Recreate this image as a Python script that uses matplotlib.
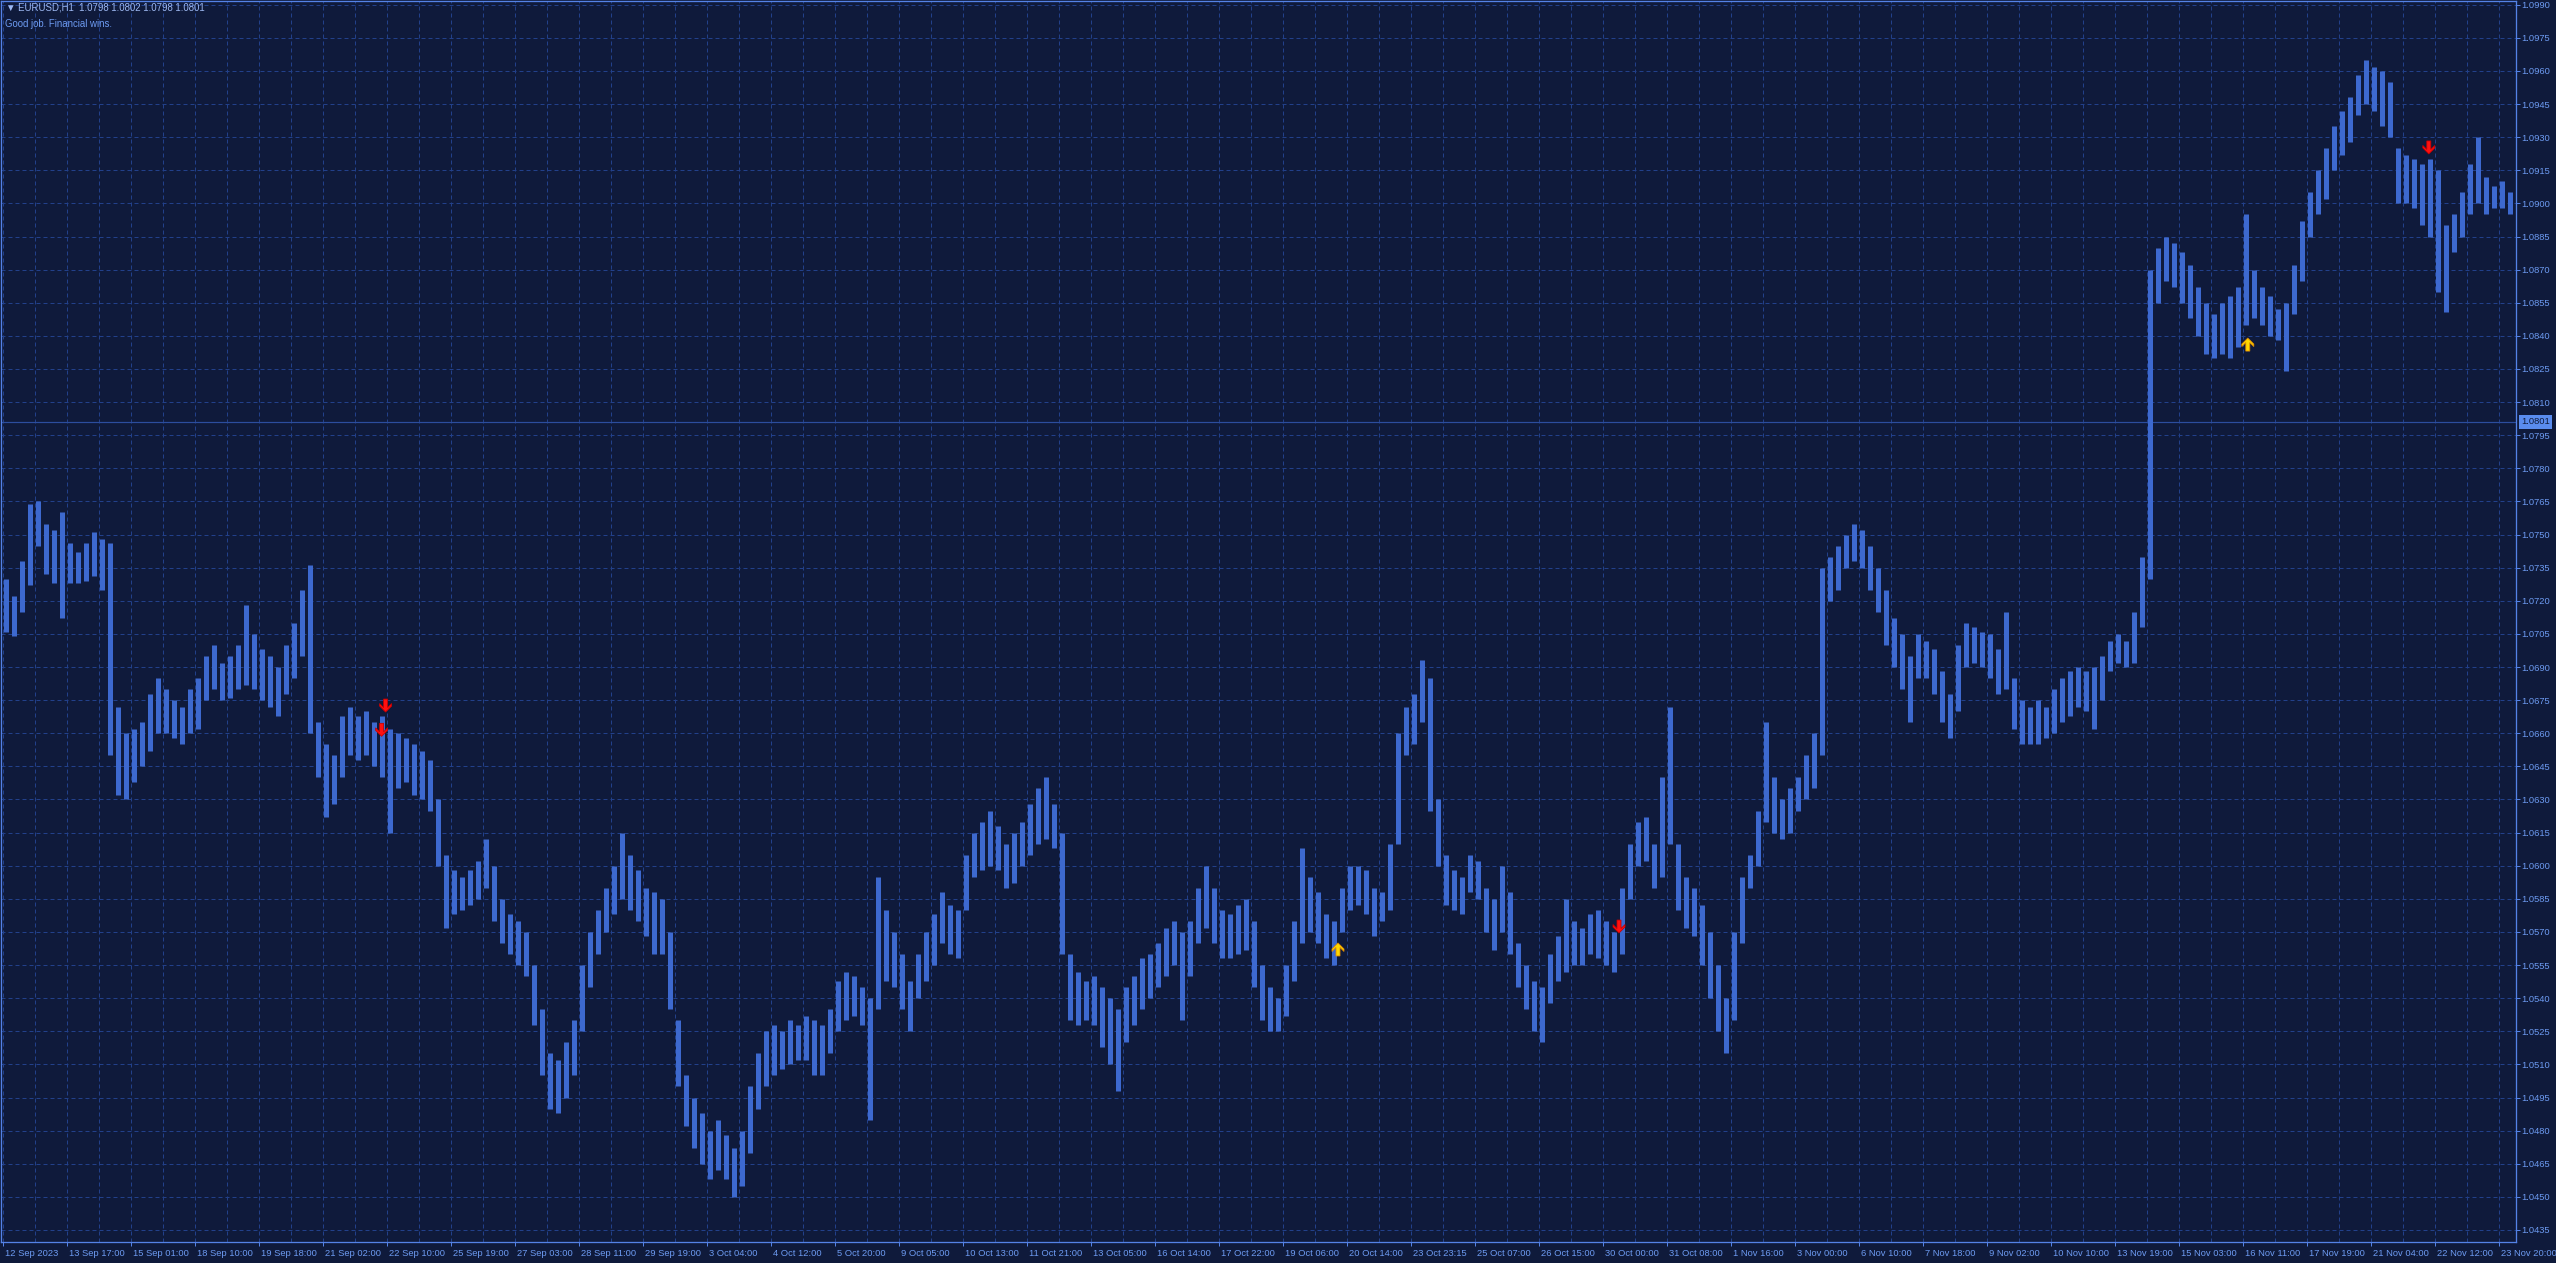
import matplotlib
matplotlib.use('Agg')
import matplotlib.pyplot as plt
import matplotlib.transforms as mtransforms
from matplotlib.patches import Polygon
import numpy as np

FONT = ['Liberation Sans', 'DejaVu Sans']
plt.rcParams['font.family'] = FONT

# ---------------- data ----------------
symbol = 'EURUSD,H1'
last_ohlc = ['1.0798', '1.0802', '1.0798', '1.0801']
subtitle = 'Good job. Financial wins.'
current_price = 1.0801

bars_per_group = 4   # each value pair below covers 4 hourly bars

highs = [
    1.0730, 1.0722, 1.0738, 1.0764, 1.0765, 1.0755, 1.0752, 1.0760, 1.0746, 1.0742,
    1.0746, 1.0751, 1.0748, 1.0746, 1.0672, 1.0660, 1.0662, 1.0665, 1.0678, 1.0685,
    1.0680, 1.0675, 1.0672, 1.0680, 1.0685, 1.0695, 1.0700, 1.0692, 1.0695, 1.0700,
    1.0718, 1.0705, 1.0698, 1.0695, 1.0690, 1.0700, 1.0710, 1.0725, 1.0736, 1.0665,
    1.0655, 1.0650, 1.0668, 1.0672, 1.0668, 1.0670, 1.0665, 1.0668, 1.0662, 1.0660,
    1.0658, 1.0655, 1.0652, 1.0648, 1.0630, 1.0605, 1.0598, 1.0595, 1.0598, 1.0602,
    1.0612, 1.0600, 1.0585, 1.0578, 1.0575, 1.0570, 1.0555, 1.0535, 1.0515, 1.0512,
    1.0520, 1.0530, 1.0555, 1.0570, 1.0580, 1.0590, 1.0600, 1.0615, 1.0605, 1.0598,
    1.0590, 1.0588, 1.0585, 1.0570, 1.0530, 1.0505, 1.0495, 1.0488, 1.0480, 1.0485,
    1.0478, 1.0472, 1.0480, 1.0500, 1.0515, 1.0525, 1.0528, 1.0525, 1.0530, 1.0528,
    1.0532, 1.0530, 1.0528, 1.0535, 1.0548, 1.0552, 1.0550, 1.0545, 1.0540, 1.0595,
    1.0580, 1.0570, 1.0560, 1.0548, 1.0560, 1.0570, 1.0578, 1.0588, 1.0582, 1.0580,
    1.0605, 1.0615, 1.0620, 1.0625, 1.0618, 1.0610, 1.0615, 1.0620, 1.0628, 1.0635,
    1.0640, 1.0628, 1.0615, 1.0560, 1.0552, 1.0548, 1.0550, 1.0545, 1.0540, 1.0535,
    1.0545, 1.0550, 1.0558, 1.0560, 1.0565, 1.0572, 1.0575, 1.0570, 1.0575, 1.0590,
    1.0600, 1.0590, 1.0580, 1.0578, 1.0582, 1.0585, 1.0575, 1.0555, 1.0545, 1.0540,
    1.0555, 1.0575, 1.0608, 1.0595, 1.0588, 1.0578, 1.0575, 1.0590, 1.0600, 1.0600,
    1.0598, 1.0590, 1.0588, 1.0610, 1.0660, 1.0672, 1.0678, 1.0693, 1.0685, 1.0630,
    1.0605, 1.0598, 1.0595, 1.0605, 1.0602, 1.0590, 1.0585, 1.0600, 1.0588, 1.0565,
    1.0555, 1.0548, 1.0545, 1.0560, 1.0568, 1.0585, 1.0575, 1.0572, 1.0578, 1.0580,
    1.0575, 1.0570, 1.0590, 1.0610, 1.0620, 1.0622, 1.0610, 1.0640, 1.0672, 1.0610,
    1.0595, 1.0590, 1.0582, 1.0570, 1.0555, 1.0540, 1.0570, 1.0595, 1.0605, 1.0625,
    1.0665, 1.0640, 1.0630, 1.0635, 1.0640, 1.0650, 1.0660, 1.0735, 1.0740, 1.0745,
    1.0750, 1.0755, 1.0752, 1.0745, 1.0735, 1.0725, 1.0712, 1.0705, 1.0695, 1.0705,
    1.0702, 1.0698, 1.0688, 1.0678, 1.0700, 1.0710, 1.0708, 1.0706, 1.0705, 1.0698,
    1.0715, 1.0685, 1.0675, 1.0672, 1.0675, 1.0672, 1.0680, 1.0685, 1.0688, 1.0690,
    1.0688, 1.0690, 1.0695, 1.0702, 1.0705, 1.0702, 1.0715, 1.0740, 1.0870, 1.0880,
    1.0885, 1.0882, 1.0878, 1.0872, 1.0862, 1.0855, 1.0850, 1.0855, 1.0858, 1.0862,
    1.0895, 1.0870, 1.0862, 1.0858, 1.0852, 1.0855, 1.0872, 1.0892, 1.0905, 1.0915,
    1.0925, 1.0935, 1.0942, 1.0948, 1.0958, 1.0965, 1.0962, 1.0960, 1.0955, 1.0925,
    1.0922, 1.0920, 1.0918, 1.0920, 1.0915, 1.0890, 1.0895, 1.0905, 1.0918, 1.0930,
    1.0912, 1.0908, 1.0910, 1.0905,
]

lows = [
    1.0706, 1.0704, 1.0715, 1.0727, 1.0745, 1.0732, 1.0728, 1.0712, 1.0728, 1.0728,
    1.0729, 1.0731, 1.0725, 1.0650, 1.0632, 1.0630, 1.0638, 1.0645, 1.0652, 1.0660,
    1.0660, 1.0658, 1.0655, 1.0660, 1.0662, 1.0675, 1.0680, 1.0675, 1.0676, 1.0680,
    1.0682, 1.0680, 1.0675, 1.0672, 1.0668, 1.0678, 1.0685, 1.0695, 1.0660, 1.0640,
    1.0622, 1.0628, 1.0640, 1.0650, 1.0648, 1.0650, 1.0645, 1.0640, 1.0615, 1.0635,
    1.0638, 1.0632, 1.0630, 1.0625, 1.0600, 1.0572, 1.0578, 1.0580, 1.0582, 1.0585,
    1.0590, 1.0575, 1.0565, 1.0560, 1.0555, 1.0550, 1.0528, 1.0505, 1.0490, 1.0488,
    1.0495, 1.0505, 1.0525, 1.0545, 1.0560, 1.0570, 1.0578, 1.0585, 1.0580, 1.0575,
    1.0568, 1.0560, 1.0560, 1.0535, 1.0500, 1.0482, 1.0472, 1.0465, 1.0458, 1.0462,
    1.0458, 1.0450, 1.0455, 1.0470, 1.0490, 1.0500, 1.0505, 1.0508, 1.0510, 1.0512,
    1.0512, 1.0505, 1.0505, 1.0515, 1.0525, 1.0530, 1.0532, 1.0528, 1.0485, 1.0535,
    1.0548, 1.0545, 1.0535, 1.0525, 1.0540, 1.0548, 1.0555, 1.0565, 1.0560, 1.0558,
    1.0580, 1.0595, 1.0598, 1.0600, 1.0598, 1.0590, 1.0592, 1.0600, 1.0605, 1.0610,
    1.0612, 1.0608, 1.0560, 1.0530, 1.0528, 1.0530, 1.0528, 1.0518, 1.0510, 1.0498,
    1.0520, 1.0528, 1.0535, 1.0540, 1.0545, 1.0550, 1.0555, 1.0530, 1.0550, 1.0565,
    1.0572, 1.0565, 1.0558, 1.0558, 1.0560, 1.0562, 1.0545, 1.0530, 1.0525, 1.0525,
    1.0532, 1.0548, 1.0565, 1.0570, 1.0565, 1.0558, 1.0555, 1.0570, 1.0580, 1.0582,
    1.0578, 1.0568, 1.0575, 1.0580, 1.0610, 1.0650, 1.0655, 1.0665, 1.0625, 1.0600,
    1.0582, 1.0580, 1.0578, 1.0588, 1.0585, 1.0570, 1.0562, 1.0570, 1.0560, 1.0545,
    1.0535, 1.0525, 1.0520, 1.0538, 1.0548, 1.0552, 1.0555, 1.0555, 1.0560, 1.0558,
    1.0555, 1.0552, 1.0560, 1.0585, 1.0600, 1.0602, 1.0590, 1.0595, 1.0610, 1.0580,
    1.0572, 1.0568, 1.0555, 1.0540, 1.0525, 1.0515, 1.0530, 1.0565, 1.0590, 1.0600,
    1.0620, 1.0615, 1.0612, 1.0615, 1.0625, 1.0630, 1.0635, 1.0650, 1.0720, 1.0725,
    1.0735, 1.0738, 1.0735, 1.0725, 1.0715, 1.0700, 1.0690, 1.0680, 1.0665, 1.0685,
    1.0685, 1.0678, 1.0665, 1.0658, 1.0670, 1.0690, 1.0692, 1.0690, 1.0685, 1.0678,
    1.0680, 1.0662, 1.0655, 1.0655, 1.0655, 1.0658, 1.0660, 1.0665, 1.0668, 1.0672,
    1.0670, 1.0662, 1.0675, 1.0688, 1.0692, 1.0690, 1.0692, 1.0708, 1.0730, 1.0855,
    1.0865, 1.0862, 1.0855, 1.0848, 1.0840, 1.0832, 1.0830, 1.0832, 1.0830, 1.0835,
    1.0845, 1.0848, 1.0845, 1.0840, 1.0838, 1.0824, 1.0850, 1.0865, 1.0885, 1.0895,
    1.0902, 1.0915, 1.0922, 1.0928, 1.0940, 1.0945, 1.0942, 1.0935, 1.0930, 1.0900,
    1.0900, 1.0898, 1.0890, 1.0885, 1.0860, 1.0851, 1.0878, 1.0885, 1.0895, 1.0900,
    1.0895, 1.0898, 1.0898, 1.0895,
]

time_labels = [
    '12 Sep 2023', '13 Sep 17:00', '15 Sep 01:00', '18 Sep 10:00', '19 Sep 18:00',
    '21 Sep 02:00', '22 Sep 10:00', '25 Sep 19:00', '27 Sep 03:00', '28 Sep 11:00',
    '29 Sep 19:00', '3 Oct 04:00', '4 Oct 12:00', '5 Oct 20:00', '9 Oct 05:00',
    '10 Oct 13:00', '11 Oct 21:00', '13 Oct 05:00', '16 Oct 14:00', '17 Oct 22:00',
    '19 Oct 06:00', '20 Oct 14:00', '23 Oct 23:15', '25 Oct 07:00', '26 Oct 15:00',
    '30 Oct 00:00', '31 Oct 08:00', '1 Nov 16:00', '3 Nov 00:00', '6 Nov 10:00',
    '7 Nov 18:00', '9 Nov 02:00', '10 Nov 10:00', '13 Nov 19:00', '15 Nov 03:00',
    '16 Nov 11:00', '17 Nov 19:00', '21 Nov 04:00', '22 Nov 12:00', '23 Nov 20:00',
]
bars_per_label = 32
bars_per_vgrid = 16

price_ticks = np.round(np.arange(1.0435, 1.09901, 0.0015), 4)

# signal arrows: (bar index, price at arrow tip)
sell_bar = [191.3, 189.3, 808.0, 1212.9]
sell_price = [1.06696, 1.06586, 1.05695, 1.09224]
buy_bar = [667.5, 1122.4]
buy_price = [1.05650, 1.08390]

# ---------------- style ----------------
W, H, DPI = 2556, 1263, 100
PX = 72.0 / DPI
BG = '#0f1a3b'
GRID = '#22408a'
BAR = '#3d69cf'
AXIS = '#5482e6'
TXT = '#6d9bf2'
PRICE_LINE = '#2c4d9e'

fig = plt.figure(figsize=(W / DPI, H / DPI), dpi=DPI, facecolor=BG)
ax = fig.add_axes([1 / W, 21 / H, 2515 / W, 1241 / H], facecolor=BG)

XMIN, XMAX = -1.0, 1256.5
YMIN, YMAX = 1.042955, 1.099168

# grid
ax.hlines(price_ticks, XMIN, XMAX, colors=GRID, linewidth=PX,
          linestyles=(0, (4, 3)), zorder=1)
vgrid = np.arange(0, XMAX, bars_per_vgrid)
ax.vlines(vgrid, YMIN, YMAX, colors=GRID, linewidth=PX,
          linestyles=(0, (4, 3)), zorder=1)

# current price line
ax.axhline(current_price, color=PRICE_LINE, linewidth=1.2 * PX, zorder=2)

# bars
n = len(highs)
xs = np.arange(n) * bars_per_group + (bars_per_group - 1) / 2.0
ax.vlines(xs, lows, highs, colors=BAR, linewidth=5.0 * PX, zorder=3)

# arrows
base = [(0, 0), (6, 6), (6, 8.5), (2, 4.5), (2, 13), (-2, 13), (-2, 4.5),
        (-6, 8.5), (-6, 6)]


def add_arrow(xb, price, up, fc, ec):
    verts = [(a, -b) for a, b in base] if up else base
    tr = mtransforms.Affine2D() + mtransforms.ScaledTranslation(xb, price, ax.transData)
    ax.add_patch(Polygon(verts, closed=True, transform=tr, facecolor=fc,
                         edgecolor=ec, linewidth=0.8 * PX, zorder=5))


for xb, p in zip(sell_bar, sell_price):
    add_arrow(xb, p, False, '#ff1010', '#c80000')
for xb, p in zip(buy_bar, buy_price):
    add_arrow(xb, p, True, '#ffd800', '#e08a00')

ax.set_xlim(XMIN, XMAX)
ax.set_ylim(YMIN, YMAX)

# axes / ticks
for s in ax.spines.values():
    s.set_color(AXIS)
    s.set_linewidth(1.3 * PX)

ax.yaxis.tick_right()
ax.set_yticks(price_ticks)
ax.set_yticklabels([f'{p:.4f}' for p in price_ticks])
ax.tick_params(axis='y', direction='out', length=4 * PX, width=PX, color=AXIS,
               labelcolor=TXT, labelsize=9.4 * PX, pad=1.5 * PX)

ax.set_xticks(np.arange(len(time_labels)) * bars_per_label)
ax.set_xticklabels(time_labels)
ax.tick_params(axis='x', direction='out', length=4 * PX, width=PX, color=AXIS,
               labelcolor=TXT, labelsize=9.4 * PX, pad=2.5 * PX)
shift = mtransforms.ScaledTranslation(2 / DPI, 0, fig.dpi_scale_trans)
for lbl in ax.get_xticklabels():
    lbl.set_horizontalalignment('left')
    lbl.set_transform(lbl.get_transform() + shift)

# current price tag
tag_tr = mtransforms.blended_transform_factory(ax.transAxes, ax.transData)
ax.text(1.0, current_price, f'{current_price:.4f}',
        transform=tag_tr + mtransforms.ScaledTranslation(5 / DPI, 0, fig.dpi_scale_trans),
        ha='left', va='center', color=BG, fontsize=9.4 * PX, zorder=6, clip_on=False,
        bbox=dict(boxstyle='square,pad=0.25', facecolor='#5a8cee', edgecolor='none'))

# header texts
fig.text(6 / W, 1 - 7.5 / H, '\u25bc ' + symbol + '  ' + ' '.join(last_ohlc),
         color='#9db8f2', fontsize=9.6 * PX, ha='left', va='center', family=FONT)
fig.text(5 / W, 1 - 24 / H, subtitle, color=TXT, fontsize=9.6 * PX,
         ha='left', va='center', family=FONT)

fig.savefig('out.png', dpi=DPI, facecolor=BG)
